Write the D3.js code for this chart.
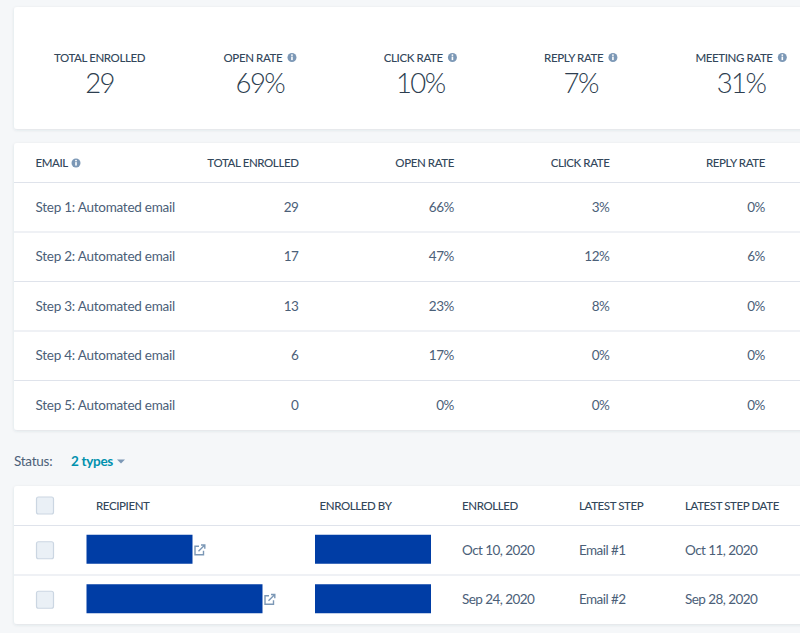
<!DOCTYPE html>
<html>
<head>
<meta charset="utf-8">
<script src="https://cdnjs.cloudflare.com/ajax/libs/d3/7.8.5/d3.min.js"></script>
<style>
  html, body { margin: 0; padding: 0; background: #f5f7f9; overflow: hidden; }
  svg { display: block; font-family: Lato, "Open Sans", sans-serif; }
  .head { font-size: 11.5px; font-weight: 500; fill: #33475b; letter-spacing: -0.4px; }
  .kpi { font-size: 27.5px; font-weight: 300; fill: #2d3e50; letter-spacing: -1.6px; }
  .cell { font-size: 13.5px; fill: #4b6078; letter-spacing: -0.25px; }
  .num { font-size: 13.5px; fill: #4b6078; letter-spacing: -0.4px; }
  .date { font-size: 13.5px; fill: #4b6078; letter-spacing: -0.55px; }
</style>
</head>
<body>
<script>
  var kpiLabels = ["TOTAL ENROLLED", "OPEN RATE", "CLICK RATE", "REPLY RATE", "MEETING RATE"];
  var kpiValues = ["29", "69%", "10%", "7%", "31%"];
  var kpiInfo = [false, true, true, true, true];

  var stepColumns = ["TOTAL ENROLLED", "OPEN RATE", "CLICK RATE", "REPLY RATE"];
  var steps = ["Step 1: Automated email", "Step 2: Automated email", "Step 3: Automated email", "Step 4: Automated email", "Step 5: Automated email"];
  var totalEnrolled = [29, 17, 13, 6, 0];
  var openRate = [66, 47, 23, 17, 0];
  var clickRate = [3, 12, 8, 0, 0];
  var replyRate = [0, 6, 0, 0, 0];

  var recipientHeaders = ["RECIPIENT", "ENROLLED BY", "ENROLLED", "LATEST STEP", "LATEST STEP DATE"];
  var recipientLengths = [106, 176];
  var enrolledByLengths = [116, 116];
  var enrolledDates = ["Oct 10, 2020", "Sep 24, 2020"];
  var latestSteps = ["Email #1", "Email #2"];
  var latestDates = ["Oct 11, 2020", "Sep 28, 2020"];

  var width = 800, height = 633;
  var iconCol = "#7c98b6", lineCol = "#dfe3eb";

  var svg = d3.select("body").append("svg")
    .attr("width", width)
    .attr("height", height);

  var defs = svg.append("defs");
  var blur = defs.append("filter").attr("id", "shadow")
    .attr("x", "-5%").attr("y", "-10%").attr("width", "110%").attr("height", "120%");
  blur.append("feDropShadow")
    .attr("dx", 0).attr("dy", 1).attr("stdDeviation", 1.5)
    .attr("flood-color", "#33475b").attr("flood-opacity", 0.12);

  function card(y0, y1) {
    svg.append("rect")
      .attr("x", 14).attr("y", y0)
      .attr("width", width + 10 - 14).attr("height", y1 - y0)
      .attr("rx", 3)
      .attr("fill", "#fff")
      .attr("filter", "url(#shadow)");
  }

  function hline(y) {
    svg.append("line")
      .attr("x1", 14).attr("x2", width)
      .attr("y1", y).attr("y2", y)
      .attr("stroke", lineCol).attr("stroke-width", 1);
  }

  function infoIcon(cx, cy) {
    var g = svg.append("g").attr("transform", "translate(" + cx + "," + cy + ")");
    g.append("circle").attr("r", 4.5).attr("fill", iconCol);
    g.append("rect").attr("x", -0.8).attr("y", -0.9).attr("width", 1.6).attr("height", 3.5).attr("fill", "#fff");
    g.append("circle").attr("cy", -2.4).attr("r", 0.95).attr("fill", "#fff");
  }

  function checkbox(cx, cy) {
    svg.append("rect")
      .attr("x", cx - 8.5).attr("y", cy - 8.5)
      .attr("width", 17).attr("height", 17)
      .attr("rx", 2)
      .attr("fill", "#eaf0f6")
      .attr("stroke", "#cbd6e2")
      .attr("stroke-width", 1.2);
  }

  function linkIcon(x, cy) {
    var g = svg.append("g")
      .attr("transform", "translate(" + x + "," + (cy - 6) + ")")
      .attr("fill", "none").attr("stroke", iconCol).attr("stroke-width", 1.4);
    g.append("path").attr("d", "M5 2H1V10.5H9.5V6.5");
    g.append("path").attr("d", "M4.5 7L10.5 1M7 0.7H10.8V4.5");
  }

  // top KPI card
  card(7, 129);
  var kpiX = d3.scalePoint().domain(kpiLabels).range([99.5, 741]);

  kpiLabels.forEach(function(label, i) {
    var shift = kpiInfo[i] ? -7 : 0;
    var t = svg.append("text")
      .attr("class", "head")
      .attr("x", kpiX(label) + shift)
      .attr("y", 61.5)
      .attr("text-anchor", "middle")
      .text(label);
    if (kpiInfo[i]) {
      var box = t.node().getBBox();
      infoIcon(box.x + box.width + 9, 57.5);
    }
    svg.append("text")
      .attr("class", "kpi")
      .attr("x", kpiX(label))
      .attr("y", 93)
      .attr("text-anchor", "middle")
      .text(kpiValues[i]);
  });

  // steps table
  card(143, 430);
  var colX = d3.scalePoint().domain(stepColumns).range([298.5, 765]);
  var rowY = d3.scaleBand().domain(steps).range([182.5, 430]);

  svg.append("text")
    .attr("class", "head")
    .attr("x", 35.5).attr("y", 166.5)
    .text("EMAIL");
  infoIcon(76, 163);

  svg.selectAll(".colhead")
    .data(stepColumns)
    .enter().append("text")
    .attr("class", "head colhead")
    .attr("x", function(d) { return colX(d); })
    .attr("y", 166.5)
    .attr("text-anchor", "end")
    .text(function(d) { return d; });

  hline(182.5);
  steps.slice(1).forEach(function(s) { hline(rowY(s)); });

  var stepCols = [
    { key: stepColumns[0], vals: totalEnrolled, suffix: "" },
    { key: stepColumns[1], vals: openRate, suffix: "%" },
    { key: stepColumns[2], vals: clickRate, suffix: "%" },
    { key: stepColumns[3], vals: replyRate, suffix: "%" }
  ];

  steps.forEach(function(s, i) {
    var cy = rowY(s) + rowY.bandwidth() / 2 + 4.5;
    svg.append("text")
      .attr("class", "cell")
      .attr("x", 35.5).attr("y", cy)
      .text(s);
    stepCols.forEach(function(c) {
      svg.append("text")
        .attr("class", "num")
        .attr("x", colX(c.key)).attr("y", cy)
        .attr("text-anchor", "end")
        .text(c.vals[i] + c.suffix);
    });
  });

  // status filter
  svg.append("text")
    .attr("class", "cell")
    .attr("x", 14).attr("y", 465.5)
    .text("Status:");
  svg.append("text")
    .attr("x", 71).attr("y", 465.5)
    .attr("font-size", 13.5).attr("font-weight", 700).attr("fill", "#0091ae")
    .attr("letter-spacing", "-0.3px")
    .text("2 types");
  svg.append("path")
    .attr("d", "M117 459.5H125L121 463.5Z")
    .attr("fill", iconCol);

  // recipients table
  card(486, 624);
  hline(525.5);
  hline(575);

  var headX = d3.scaleOrdinal().domain(recipientHeaders).range([96, 319.5, 462, 579, 685]);
  var rows = d3.scaleBand().domain(enrolledDates).range([525.5, 624.5]);
  var barLen = d3.scaleLinear().domain([0, 176]).range([0, 176]);

  checkbox(45, 505.5);
  svg.selectAll(".rechead")
    .data(recipientHeaders)
    .enter().append("text")
    .attr("class", "head rechead")
    .attr("x", function(d) { return headX(d); })
    .attr("y", 509.5)
    .text(function(d) { return d; });

  enrolledDates.forEach(function(d, i) {
    var cy = rows(d) + rows.bandwidth() / 2;
    checkbox(45, cy);
    svg.append("rect")
      .attr("x", 86.5).attr("y", cy - 15.5)
      .attr("width", barLen(recipientLengths[i])).attr("height", 29)
      .attr("fill", "#003da5");
    linkIcon(86.5 + barLen(recipientLengths[i]) + 1.5, cy);
    svg.append("rect")
      .attr("x", 315).attr("y", cy - 15.5)
      .attr("width", barLen(enrolledByLengths[i])).attr("height", 29)
      .attr("fill", "#003da5");
    [[headX(recipientHeaders[2]), d],
     [headX(recipientHeaders[3]), latestSteps[i]],
     [headX(recipientHeaders[4]), latestDates[i]]].forEach(function(c) {
      svg.append("text")
        .attr("class", "date")
        .attr("x", c[0]).attr("y", cy + 4.5)
        .text(c[1]);
    });
  });
</script>
</body>
</html>
